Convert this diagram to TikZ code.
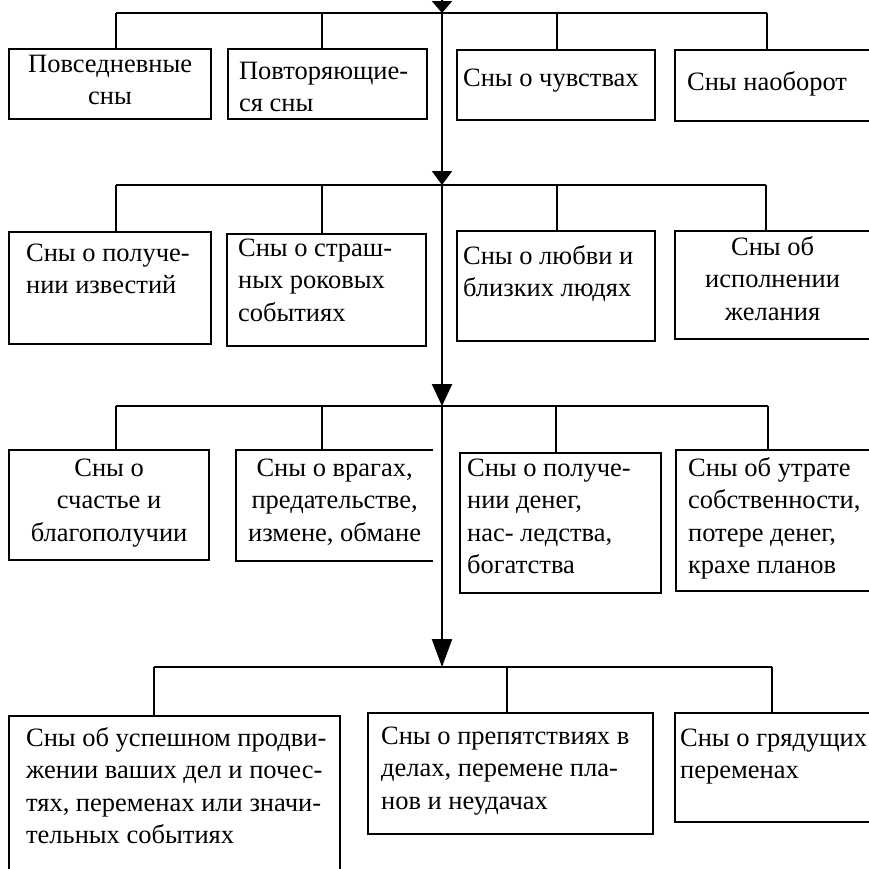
\documentclass[tikz,border=0pt]{standalone}
\usepackage{fontspec}
\setmainfont{Liberation Serif}
\usetikzlibrary{arrows.meta, calc}

% text of a box: width, height, alignment, first baseline, lines
\newcommand{\dream}[5]{\parbox[t][#2pt][t]{#1pt}{#3\rule{0pt}{#4pt}#5}}

\tikzset{
  cell/.style={draw, line width=2.2pt, rectangle, anchor=north west, inner sep=0pt},
  link/.style={line width=2.2pt},
  spine/.style={line width=2.2pt, -{Triangle[width=20pt,length=#1]}},
}

\begin{document}
\begin{tikzpicture}[x=1pt, y=-1pt, font=\fontsize{26.5}{32.5}\selectfont]
\useasboundingbox (0,0) rectangle (869,868);

% main line down the middle
\coordinate (top) at (442,0);
\coordinate (j1) at (442,13);
\coordinate (j2) at (442,185);
\coordinate (j3) at (442,406);
\coordinate (j4) at (442,667);
\foreach \a/\b/\l in {top/j1/12, j1/j2/14, j2/j3/22, j3/j4/28}
  \draw[spine=\l pt] (\a) -- (\b);

% Row 1
\node[cell] (b11) at (8,48)  {\dream{202}{70}{\centering}{23}{Повседневные\\сны}};
\node[cell] (b12) at (227,48) {\dream{199}{70}{\raggedright\leftskip=11pt}{30}{Повторяющие-\\ся сны}};
\node[cell] (b13) at (456,49) {\dream{198}{70}{\raggedright\leftskip=6pt}{36}{Сны о чувствах}};
\node[cell] (b14) at (674,49) {\dream{200}{71}{\raggedright\leftskip=12pt}{40}{Сны наоборот}};
\foreach \i/\x in {11/116, 12/322, 13/557, 14/767} {
  \coordinate (d\i) at (\x,13);
  \draw[link] (d\i) -- (d\i |- b\i.north);
}
\draw[link] (d11) -- (d14);

% Row 2
\node[cell] (b21) at (8,231)   {\dream{202}{112}{\raggedright\leftskip=17pt}{29}{Сны о получе-\\нии известий}};
\node[cell] (b22) at (226,233) {\dream{199}{112}{\raggedright\leftskip=11pt}{22}{Сны о страш-\\ных роковых\\событиях}};
\node[cell] (b23) at (456,230) {\dream{198}{110}{\raggedright\leftskip=6pt}{33}{Сны о любви и\\близких людях}};
\node[cell] (b24) at (674,230) {\dream{195}{108}{\centering}{24}{Сны об\\исполнении\\желания}};
\foreach \i/\x in {21/116, 22/322, 23/557, 24/766} {
  \coordinate (d\i) at (\x,185);
  \draw[link] (d\i) -- (d\i |- b\i.north);
}
\draw[link] (d21) -- (d24);

% Row 3
\node[cell] (b31) at (8,449)   {\dream{200}{110}{\centering}{26}{Сны о\\счастье и\\благополучии}};
\node[cell, draw=none] (b32) at (236,450) {\dream{195}{109}{\centering}{25}{Сны о врагах,\\предательстве,\\измене, обмане}};
\draw[link] (b32.north east) -- (b32.north west) -- (b32.south west) -- (b32.south east);
\node[cell] (b33) at (459,452) {\dream{201}{140}{\raggedright\leftskip=7pt}{23}{Сны о получе-\\нии денег,\\нас- ледства,\\богатства}};
\node[cell] (b34) at (675,449) {\dream{198}{141}{\raggedright\leftskip=12pt}{26}{Сны об утрате\\собственности,\\потере денег,\\крахе планов}};
\foreach \i/\x in {31/116, 32/322, 33/556, 34/768} {
  \coordinate (d\i) at (\x,406);
  \draw[link] (d\i) -- (d\i |- b\i.north);
}
\draw[link] (d31) -- (d34);

% Row 4
\node[cell] (b41) at (8,715)   {\dream{331}{170}{\raggedright\leftskip=17pt}{30}{Сны об успешном продви-\\жении ваших дел и почес-\\тях, переменах или значи-\\тельных событиях}};
\node[cell] (b42) at (367,712) {\dream{285}{121}{\raggedright\leftskip=13pt}{31}{Сны о препятствиях в\\делах, перемене пла-\\нов и неудачах}};
\node[cell] (b43) at (674,712) {\dream{199}{109}{\raggedright\leftskip=5pt}{33}{Сны о грядущих\\переменах}};
\foreach \i/\x in {41/154, 42/507, 43/772} {
  \coordinate (d\i) at (\x,667);
  \draw[link] (d\i) -- (d\i |- b\i.north);
}
\draw[link] (d41) -- (d43);

\end{tikzpicture}
\end{document}
